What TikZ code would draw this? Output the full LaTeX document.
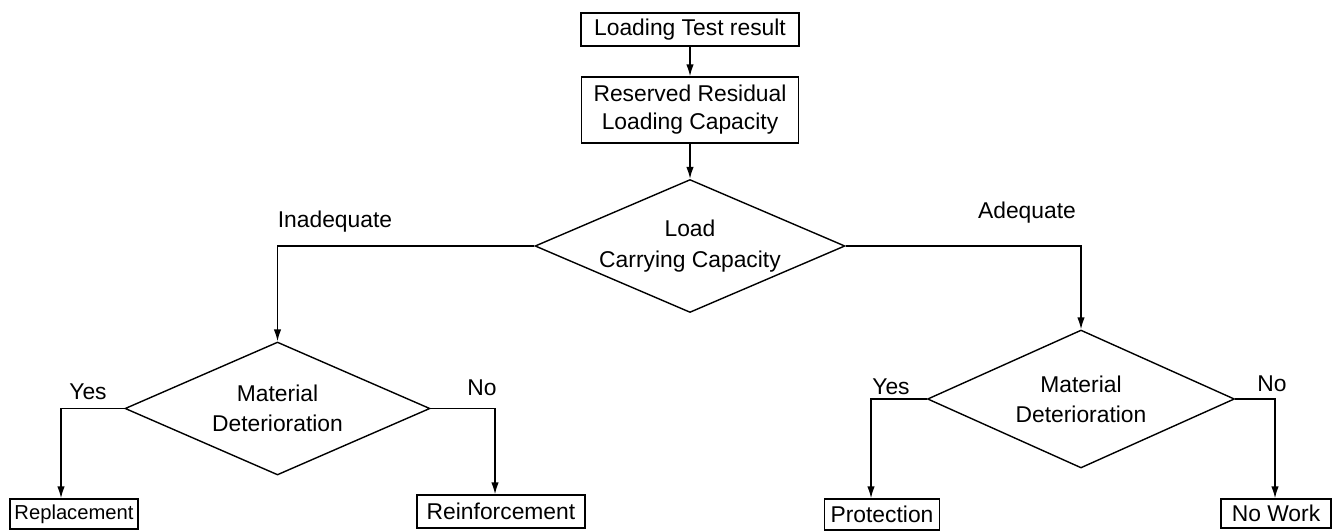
\documentclass[tikz,border=0pt]{standalone}
\usepackage{fontspec}
\setmainfont{Liberation Sans}
\usetikzlibrary{shapes.geometric,arrows.meta}
\tikzset{
  box/.style={draw,line width=0.8pt,inner sep=0pt,font=\fontsize{13}{16}\selectfont},
  decision/.style={draw,diamond,line width=0.8pt,inner sep=0pt,shape aspect=2.3,align=center,font=\fontsize{13}{17}\selectfont},
  flow/.style={line width=0.8pt,-{Latex[length=2.4mm,width=1.5mm]}},
  lbl/.style={font=\fontsize{13}{16}\selectfont}
}

\begin{document}
\begin{tikzpicture}[x=0.02cm,y=-0.02cm]
  \useasboundingbox (0,0) rectangle (1333,531);
  %%%%% boxes %%%%%
  \node[box,minimum width=4.36cm,minimum height=0.66cm] (test) at (690,29.5) {Loading Test result};
  \node[box,align=center,minimum width=4.34cm,minimum height=1.32cm] (resid) at (690,110) {Reserved Residual\\Loading Capacity};

  %%%%% decisions %%%%%
  \node[decision,minimum width=6.2cm,minimum height=2.66cm] (load) at (690,246) {Load\\[1pt]Carrying Capacity};
  \node[decision,minimum width=6.1cm,minimum height=2.66cm] (mat1) at (277.5,408.5) {Material\\Deterioration};
  \node[decision,minimum width=6.14cm,minimum height=2.76cm] (mat2) at (1081,399) {Material\\Deterioration};

  %%%%% results %%%%%
  \node[box,minimum width=2.56cm,minimum height=0.6cm,font=\fontsize{11.5}{13}\selectfont] (repl) at (74,514) {Replacement};
  \node[box,minimum width=3.36cm,minimum height=0.66cm] (reinf) at (501,511.5) {Reinforcement};
  \node[box,minimum width=2.3cm,minimum height=0.62cm] (prot) at (882,514.5) {Protection};
  \node[box,minimum width=2.2cm,minimum height=0.58cm] (nowork) at (1276,513.5) {No Work};

  %%%%% labels %%%%%
  \node[lbl] (inadq) at (335,222) {Inadequate};
  \node[lbl] (adq) at (1027,213) {Adequate};
  \node[lbl] (yes1) at (88,392) {Yes};
  \node[lbl] (no1) at (482,388) {No};
  \node[lbl] (yes2) at (891,387) {Yes};
  \node[lbl] (no2) at (1272,384) {No};

  %%%%% arrows %%%%%
  \draw[flow] (test) -- (resid);
  \draw[flow] (resid) -- (load);
  \draw[flow] (load.west) -| (mat1.north);
  \draw[flow] (load.east) -| (mat2.north);
  \draw[flow] (mat1.west) -| ([xshift=-0.26cm]repl.north);
  \draw[flow] (mat1.east) -| ([xshift=-0.12cm]reinf.north);
  \draw[flow] (mat2.west) -| ([xshift=-0.22cm]prot.north);
  \draw[flow] (mat2.east) -| ([xshift=-0.02cm]nowork.north);
\end{tikzpicture}
\end{document}
